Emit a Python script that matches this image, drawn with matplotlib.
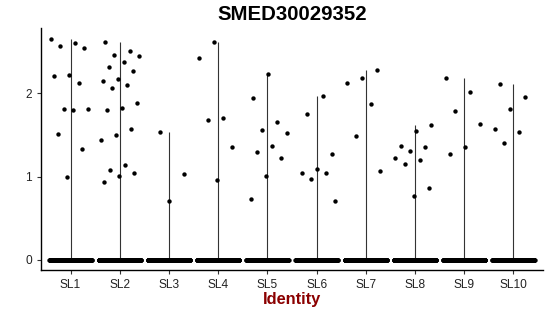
import numpy as np
import matplotlib
matplotlib.use("Agg")
import matplotlib.pyplot as plt

plt.rcParams['font.family'] = ['Liberation Sans', 'DejaVu Sans']

title = "SMED30029352"
categories = ["SL1", "SL2", "SL3", "SL4", "SL5", "SL6", "SL7", "SL8", "SL9", "SL10"]
y_ticks = [0, 1, 2]

# non-zero expression values per identity
sl1 = [2.65, 2.60, 2.57, 2.54, 2.22, 2.20, 2.12, 1.81, 1.81, 1.80, 1.51, 1.33, 0.99]
sl2 = [2.61, 2.51, 2.46, 2.44, 2.37, 2.31, 2.26, 2.17, 2.15, 2.10, 2.06, 1.88, 1.82,
       1.80, 1.57, 1.50, 1.44, 1.14, 1.08, 1.04, 1.01, 0.93]
sl3 = [1.53, 1.03, 0.71]
sl4 = [2.61, 2.42, 1.70, 1.68, 1.35, 0.96]
sl5 = [2.23, 1.94, 1.65, 1.56, 1.52, 1.37, 1.29, 1.22, 1.01, 0.73]
sl6 = [1.97, 1.75, 1.27, 1.09, 1.04, 1.04, 0.97, 0.71]
sl7 = [2.28, 2.18, 2.12, 1.87, 1.48, 1.07]
sl8 = [1.62, 1.55, 1.36, 1.35, 1.31, 1.22, 1.20, 1.15, 0.86, 0.77]
sl9 = [2.18, 2.01, 1.78, 1.63, 1.35, 1.27]
sl10 = [2.11, 1.95, 1.81, 1.57, 1.53, 1.40]
# number of cells with zero expression per identity (estimated)
zero_counts = [300, 300, 300, 300, 300, 300, 300, 300, 300, 300]

nonzero = [sl1, sl2, sl3, sl4, sl5, sl6, sl7, sl8, sl9, sl10]

fig = plt.figure(figsize=(5.5, 3.16), dpi=100)
ax = fig.add_axes([41/550, 1-270/316, (543-41)/550, (270-28)/316])

def jitter(n, width=0.42, seed_shift=0.0):
    k = np.arange(n)
    return (((k * 0.6180339887 + seed_shift) % 1.0) - 0.5) * 2 * width

for i, (vals, nz) in enumerate(zip(nonzero, zero_counts)):
    pos = i + 1
    allvals = np.concatenate([np.zeros(nz), np.array(vals)])
    # violin (degenerate: line from min to max)
    ax.vlines(pos, allvals.min(), allvals.max(), color="#333333", lw=0.8, zorder=1)
    # zero points
    ax.scatter(pos + np.linspace(-0.43, 0.43, nz), np.zeros(nz), s=10, color="black",
               linewidths=0, zorder=2)
    # nonzero points
    v = np.array(vals)
    ax.scatter(pos + jitter(len(v), 0.4, 0.13 * i), v, s=10, color="black",
               linewidths=0, zorder=3)

ax.set_xlim(0.4, 10.6)
ax.set_ylim(-0.12, 2.78)
ax.set_xticks(range(1, len(categories) + 1))
ax.set_xticklabels(categories)
ax.set_yticks(y_ticks)
ax.tick_params(axis='both', labelsize=8.6, colors="#333333", length=3, width=0.8)
ax.tick_params(axis='both', labelcolor="#222222")
for s in ["top", "right"]:
    ax.spines[s].set_visible(False)
for s in ["left", "bottom"]:
    ax.spines[s].set_linewidth(1.0)
    ax.spines[s].set_color("black")

ax.set_title(title, fontsize=14.7, fontweight="bold", pad=6)
ax.set_xlabel("Identity", fontsize=11.8, fontweight="bold", color="#8B0000", labelpad=1)

fig.savefig("out.png", dpi=100)
